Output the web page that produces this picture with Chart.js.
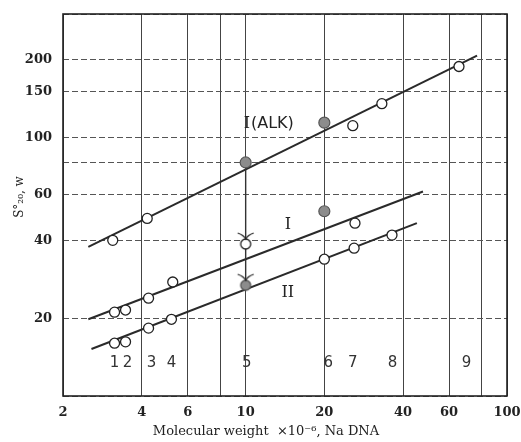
<!DOCTYPE html>
<html>
<head>
<meta charset="utf-8">
<script src="https://cdn.jsdelivr.net/npm/chart.js@4.4.0/dist/chart.umd.min.js"></script>
<style>
html, body { margin: 0; padding: 0; background: #fff; }
#wrap { width: 521px; height: 442px; }
</style>
</head>
<body>
<div id="wrap"><canvas id="myChart" width="521" height="442"></canvas></div>
<script>
// S20,w against molecular weight, both axes logarithmic

// I (ALK)
const alkOpenMW = [3.1, 4.2, 25.7, 33.2, 65.5];
const alkOpenS = [40, 48.6, 111, 135, 188];
const alkFilledMW = [10, 20];
const alkFilledS = [80, 114];
const alkFitMW = [2.5, 76.8];
const alkFitS = [37.7, 207];

// I
const oneOpenMW = [3.15, 3.47, 4.25, 5.26, 26.2];
const oneOpenS = [21.1, 21.5, 23.9, 27.6, 46.6];
const oneArrowMW = [10];
const oneArrowS = [38.7];
const oneFilledMW = [20];
const oneFilledS = [51.8];
const oneFitMW = [2.5, 47.7];
const oneFitS = [19.8, 61.8];

// II
const twoOpenMW = [3.15, 3.47, 4.25, 5.2, 20, 26, 36.3];
const twoOpenS = [16.0, 16.2, 18.3, 19.8, 33.8, 37.3, 41.9];
const twoArrowMW = [10];
const twoArrowS = [26.8];
const twoFitMW = [2.57, 45.2];
const twoFitS = [15.2, 46.6];

// sample numbers along the bottom
const sampleNames = ['1', '2', '3', '4', '5', '6', '7', '8', '9'];
const sampleMW = [3.15, 3.53, 4.36, 5.2, 10.1, 20.7, 25.7, 36.5, 70];

const xGrid = [2, 4, 6, 8, 10, 20, 40, 60, 80, 100];
const xLabels = [2, 4, 6, 10, 20, 40, 60, 100];
const yGrid = [10, 20, 40, 60, 80, 100, 150, 200, 300];
const yLabels = [20, 40, 60, 100, 150, 200];

const ink = '#222';
const greyFill = '#8c8c8c';

const pts = (xs, ys) => xs.map((x, i) => ({ x: x, y: ys[i] }));

function arrowMarker(filled) {
    const c = document.createElement('canvas');
    c.width = 26;
    c.height = 26;
    const g = c.getContext('2d');
    g.beginPath();
    g.arc(13, 13, 5, 0, Math.PI * 2);
    g.fillStyle = filled ? greyFill : '#fff';
    g.fill();
    g.lineWidth = 1.3;
    g.strokeStyle = filled ? '#555' : ink;
    g.stroke();
    g.beginPath();
    g.moveTo(5, 2);
    g.quadraticCurveTo(11, 4, 13, 8);
    g.quadraticCurveTo(15, 4, 21, 2);
    g.lineWidth = 1.3;
    g.strokeStyle = ink;
    g.stroke();
    return c;
}

const openStyle = {
    pointRadius: 5, pointBackgroundColor: '#fff', pointBorderColor: ink,
    pointBorderWidth: 1.3, showLine: false
};
const filledStyle = {
    pointRadius: 5.5, pointBackgroundColor: greyFill, pointBorderColor: '#555',
    pointBorderWidth: 1.2, showLine: false
};
const fitStyle = {
    showLine: true, pointRadius: 0, borderColor: '#2a2a2a', borderWidth: 2
};

const notes = {
    id: 'notes',
    afterDraw(chart) {
        const ctx = chart.ctx;
        const a = chart.chartArea;
        const xs = chart.scales.x;
        const ys = chart.scales.y;
        ctx.save();

        // frame
        ctx.setLineDash([]);
        ctx.strokeStyle = ink;
        ctx.lineWidth = 1.6;
        ctx.strokeRect(a.left, a.top, a.right - a.left, a.bottom - a.top);

        ctx.fillStyle = ink;
        ctx.textBaseline = 'middle';

        // curve names
        let px = xs.getPixelForValue(10) - 2;
        let py = ys.getPixelForValue(113);
        ctx.textAlign = 'left';
        ctx.font = '16px "DejaVu Serif"';
        ctx.fillText('I', px, py);
        px += ctx.measureText('I').width + 1;
        ctx.font = '16px "DejaVu Sans"';
        ctx.fillText('(ALK)', px, py);

        ctx.textAlign = 'center';
        ctx.font = '16px "DejaVu Serif"';
        ctx.fillText('I', xs.getPixelForValue(14.5), ys.getPixelForValue(45.8));
        ctx.fillText('II', xs.getPixelForValue(14.5), ys.getPixelForValue(25.1));

        // sample numbers
        ctx.font = '15px "DejaVu Sans"';
        ctx.fillStyle = '#333';
        sampleNames.forEach((s, i) => {
            ctx.fillText(s, xs.getPixelForValue(sampleMW[i]), ys.getPixelForValue(13.4));
        });

        // axis titles
        ctx.fillStyle = ink;
        ctx.font = '13px "DejaVu Serif"';
        ctx.fillText('Molecular weight  \u00d710\u207b\u2076, Na DNA', 266, 432);

        ctx.translate(20, 197);
        ctx.rotate(-Math.PI / 2);
        ctx.font = '12px "DejaVu Serif"';
        ctx.fillText('S\u00b0\u2082\u2080, w', 0, 0);
        ctx.restore();
    }
};

const config = {
    type: 'scatter',
    data: {
        datasets: [
            { data: pts(alkOpenMW, alkOpenS), ...openStyle },
            { data: pts(alkFilledMW, alkFilledS), ...filledStyle },
            { data: pts(oneOpenMW, oneOpenS), ...openStyle },
            { data: pts(oneFilledMW, oneFilledS), ...filledStyle },
            { data: pts(oneArrowMW, oneArrowS), pointStyle: arrowMarker(false), pointRadius: 13, showLine: false },
            { data: pts(twoOpenMW, twoOpenS), ...openStyle },
            { data: pts(twoArrowMW, twoArrowS), pointStyle: arrowMarker(true), pointRadius: 13, showLine: false },
            // arrow shaft joining the shifted points
            { data: [{ x: alkFilledMW[0], y: alkFilledS[0] }, { x: twoArrowMW[0], y: twoArrowS[0] }],
              showLine: true, pointRadius: 0, borderColor: '#333', borderWidth: 1.4 },
            { data: pts(alkFitMW, alkFitS), ...fitStyle },
            { data: pts(oneFitMW, oneFitS), ...fitStyle },
            { data: pts(twoFitMW, twoFitS), ...fitStyle }
        ]
    },
    options: {
        responsive: false,
        animation: false,
        layout: { padding: { left: 0, top: 12, right: 13, bottom: 0 } },
        plugins: { legend: { display: false }, tooltip: { enabled: false } },
        scales: {
            x: {
                type: 'logarithmic',
                min: 2,
                max: 100,
                afterBuildTicks: (s) => { s.ticks = xGrid.map(v => ({ value: v })); },
                afterFit: (s) => { s.height = 46; s.paddingLeft = 0; s.paddingRight = 0; },
                grid: { color: '#444', lineWidth: 1, drawTicks: false },
                border: { display: false },
                ticks: {
                    autoSkip: false,
                    maxRotation: 0,
                    padding: 9,
                    color: ink,
                    font: { family: 'DejaVu Serif', weight: 'bold', size: 13 },
                    callback: (v) => xLabels.includes(v) ? String(v) : ''
                }
            },
            y: {
                type: 'logarithmic',
                min: 10,
                max: 300,
                afterBuildTicks: (s) => { s.ticks = yGrid.map(v => ({ value: v })); },
                afterFit: (s) => { s.width = 63; s.paddingTop = 0; s.paddingBottom = 0; },
                grid: { color: '#555', lineWidth: 1, drawTicks: false },
                border: { display: false, dash: [6, 3] },
                ticks: {
                    autoSkip: false,
                    padding: 11,
                    color: ink,
                    font: { family: 'DejaVu Serif', weight: 'bold', size: 13 },
                    callback: (v) => yLabels.includes(v) ? String(v) : ''
                }
            }
        }
    },
    plugins: [notes]
};

const myChart = new Chart(document.getElementById('myChart'), config);
</script>
</body>
</html>
